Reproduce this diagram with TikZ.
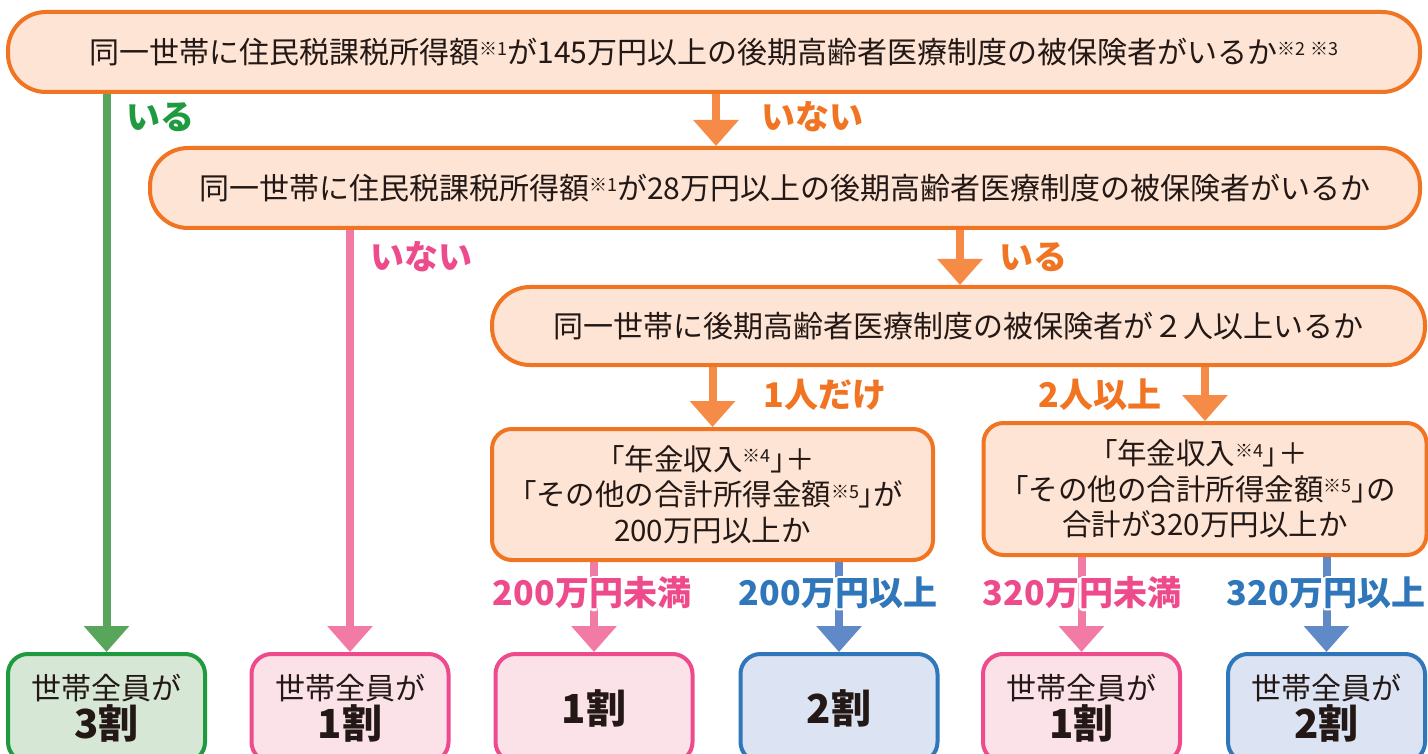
\documentclass[tikz,border=0pt]{standalone}
\usepackage{fontspec}
\setmainfont{Noto Sans CJK JP}
\newfontfamily\pal{Noto Sans CJK JP}[RawFeature=+palt]
\usetikzlibrary{arrows.meta}
\definecolor{obord}{HTML}{F07422}
\definecolor{ofill}{HTML}{FDE4D4}
\definecolor{oarrow}{HTML}{F68B47}
\definecolor{olabel}{HTML}{F07422}
\definecolor{garrow}{HTML}{57A65B}
\definecolor{glabel}{HTML}{1F9A3F}
\definecolor{gfill}{HTML}{D6E8D5}
\definecolor{parrow}{HTML}{F27BA6}
\definecolor{plabel}{HTML}{EE4B8C}
\definecolor{pfill}{HTML}{FBE2E9}
\definecolor{barrow}{HTML}{6089C7}
\definecolor{blabel}{HTML}{2F76BB}
\definecolor{bfill}{HTML}{DCE3F2}
\definecolor{ink}{HTML}{231815}
\newcommand{\nt}[1]{\raisebox{7.5pt}{\fontsize{18pt}{18pt}\selectfont ※#1}}
\newcommand{\lbk}{{\pal 「}}
\newcommand{\rbk}{{\pal 」}}
\newcommand{\halolabel}[4]{%
  \foreach \dx/\dy in {2.2/0,-2.2/0,0/2.2,0/-2.2,1.6/1.6,-1.6/1.6,1.6/-1.6,-1.6/-1.6}
    \node[lab,text=white] at ([shift={(\dx,\dy)}]#2) {#4};
  \node[lab,text=#3] (#1) at (#2) {#4};
}
\tikzset{
  pill/.style={draw=obord, fill=ofill, line width=4pt, rounded corners=38pt, inner sep=0pt, text=ink, font=\fontsize{30pt}{36pt}\selectfont},
  qbox/.style={draw=obord, fill=ofill, line width=4pt, rounded corners=20pt, inner sep=0pt, align=center, text=ink, font=\fontsize{29.5pt}{35.5pt}\selectfont},
  res/.style={line width=4pt, rounded corners=20pt, minimum width=197pt, minimum height=108pt, inner sep=0pt, align=center, text=ink, font=\fontsize{30pt}{39pt}\selectfont},
  arr/.style={line width=8pt, -{Triangle[width=44pt,length=26pt]}},
  lab/.style={font=\fontsize{34pt}{34pt}\selectfont\bfseries, inner sep=0pt},
}
\begin{document}
\begin{tikzpicture}[x=1pt,y=-1pt]
\clip (0,0) rectangle (1428,754);
\fill[white] (0,0) rectangle (1428,754);

% question boxes
\node[pill, minimum width=1412pt, minimum height=80pt] (b1) at (714,52)
  {同一世帯に住民税課税所得額\nt{1}が145万円以上の後期高齢者医療制度の被保険者がいるか\nt{2}\,\nt{3}};
\node[pill, minimum width=1270pt, minimum height=80pt] (b2) at (785,188)
  {同一世帯に住民税課税所得額\nt{1}が28万円以上の後期高齢者医療制度の被保険者がいるか};
\node[pill, minimum width=933pt, minimum height=78pt] (b3) at (958.5,326)
  {同一世帯に後期高齢者医療制度の被保険者が２人以上いるか};
\node[qbox, minimum width=441pt, minimum height=131pt] (b4) at (712.5,494.5)
  {\lbk 年金収入\nt{4}\rbk ＋\\\lbk その他の合計所得金額\nt{5}\rbk が\\200万円以上か};
\node[qbox, minimum width=443pt, minimum height=132pt] (b5) at (1205,489)
  {\lbk 年金収入\nt{4}\rbk ＋\\\lbk その他の合計所得金額\nt{5}\rbk の\\合計が320万円以上か};

% result boxes
\node[res, draw=glabel, fill=gfill, anchor=north] (bA) at (106.5,652)
  {世帯全員が\\{\fontsize{40pt}{40pt}\selectfont\bfseries 3割}};
\node[res, draw=plabel, fill=pfill, anchor=north] (bB) at (350,652)
  {世帯全員が\\{\fontsize{40pt}{40pt}\selectfont\bfseries 1割}};
\node[res, draw=plabel, fill=pfill, anchor=north] (bC) at (594,652)
  {{\fontsize{40pt}{40pt}\selectfont\bfseries 1割}};
\node[res, draw=blabel, fill=bfill, anchor=north] (bD) at (839,652)
  {{\fontsize{40pt}{40pt}\selectfont\bfseries 2割}};
\node[res, draw=plabel, fill=pfill, anchor=north] (bE) at (1081.5,652)
  {世帯全員が\\{\fontsize{40pt}{40pt}\selectfont\bfseries 1割}};
\node[res, draw=blabel, fill=bfill, anchor=north] (bF) at (1326.5,652)
  {世帯全員が\\{\fontsize{40pt}{40pt}\selectfont\bfseries 2割}};

% connectors
\coordinate (x1) at (716,0);
\coordinate (x2) at (960,0);
\draw[arr, garrow] (b1.south -| bA.north) -- (bA.north);
\draw[arr, oarrow] (b1.south -| x1) -- (b2.north -| x1);
\draw[arr, parrow] (b2.south -| bB.north) -- (bB.north);
\draw[arr, oarrow] (b2.south -| x2) -- (b3.north -| x2);
\draw[arr, oarrow] (b3.south -| b4.north) -- (b4.north);
\draw[arr, oarrow] (b3.south -| b5.north) -- (b5.north);
\draw[arr, parrow] (b4.south -| bC.north) -- (bC.north);
\draw[arr, barrow] (b4.south -| bD.north) -- (bD.north);
\draw[arr, parrow] (b5.south -| bE.north) -- (bE.north);
\draw[arr, barrow] (b5.south -| bF.north) -- (bF.north);

% labels
\node[lab, text=glabel] (l1) at (160,117) {いる};
\node[lab, text=olabel] (l2) at (812,117) {いない};
\node[lab, text=plabel] (l3) at (421,257) {いない};
\node[lab, text=olabel] (l4) at (1033,257) {いる};
\node[lab, text=olabel] (l5) at (825,395) {1人だけ};
\node[lab, text=olabel] (l6) at (1100,395) {2人以上};
\halolabel{l7}{592,593}{plabel}{200万円未満}
\halolabel{l8}{838,593}{blabel}{200万円以上}
\halolabel{l9}{1082,593}{plabel}{320万円未満}
\halolabel{l10}{1326,593}{blabel}{320万円以上}
\end{tikzpicture}
\end{document}
